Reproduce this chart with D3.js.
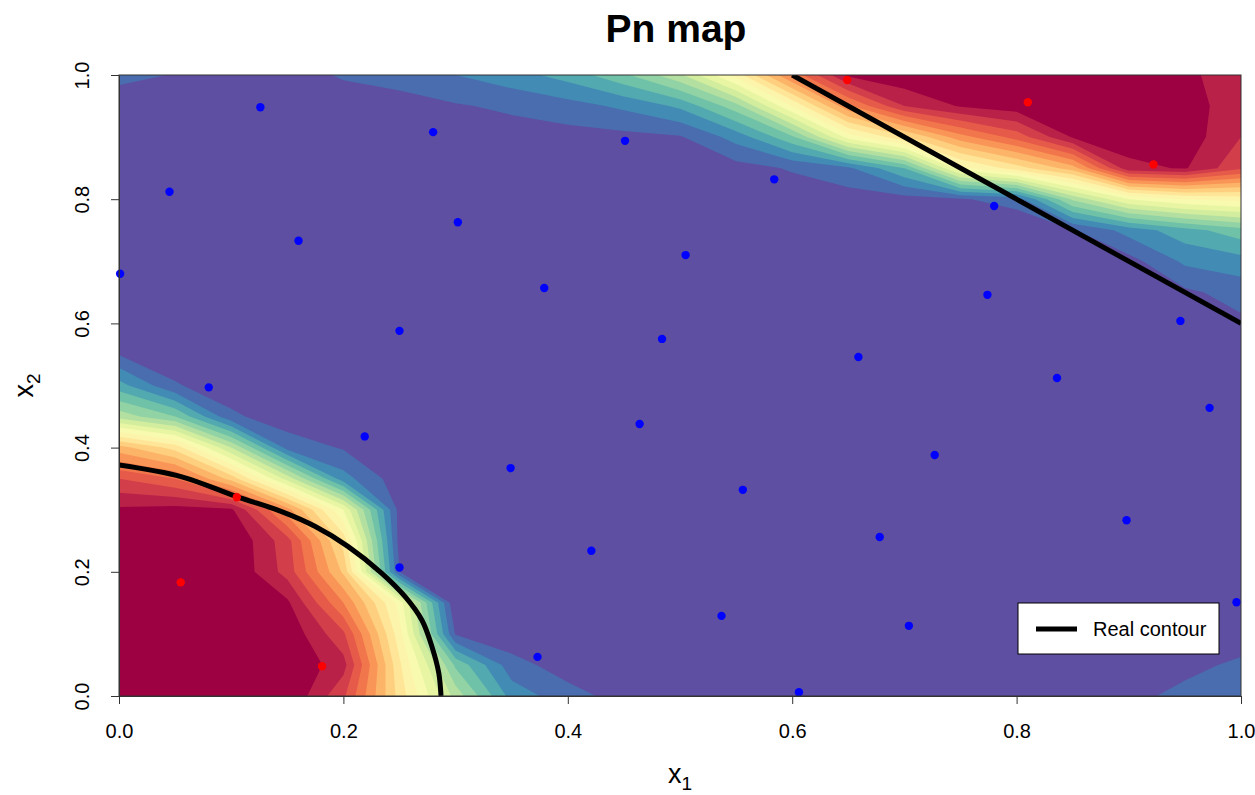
<!DOCTYPE html>
<html>
<head>
<meta charset="utf-8">
<script src="https://cdn.jsdelivr.net/npm/d3@7"></script>
<style>
  body { margin: 0; background: #fff; }
  text { font-family: "Liberation Sans", Arial, sans-serif; fill: #000; }
</style>
</head>
<body>
<script>
// Pn map: values in %, rows go from x2 = 1.0 (top) down to x2 = 0.0,
// columns go from x1 = 0 to x1 = 1 in steps of 0.05
const gridStep = 0.05;
const pnGrid = [
  [6, 4.8, 3, 3, 5.5, 7, 10, 13, 17, 24, 34, 52, 76, 96, 99, 100, 100, 100, 100, 97, 90],
  [3, 2, 2, 2, 2.5, 3, 4.5, 6, 8, 11, 16, 28, 50, 74, 90, 95.5, 98, 99, 99, 99, 90],
  [1.5, 1, 1, 1, 1, 1.5, 2, 2.5, 3, 3.5, 4.5, 12, 24, 47, 59, 73, 82, 95.5, 98, 98, 90],
  [1, 1, 0.5, 0.5, 0.5, 0.5, 1, 1, 1.5, 2, 2, 3, 5.5, 9, 20, 48, 57.5, 67.5, 93.5, 95.5, 86],
  [1, 0.5, 0, 0, 0, 0, 0, 0, 0.5, 0.5, 1, 1.5, 2, 2.5, 3, 4.5, 7, 31, 45, 50, 52],
  [1, 0.5, 0, 0, 0, 0, 0, 0, 0, 0, 0, 0, 0, 0.5, 0.5, 1, 1, 4.5, 12, 18, 23],
  [1.5, 1, 0.5, 0, 0, 0, 0, 0, 0, 0, 0, 0, 0, 0, 0, 0.5, 0.5, 1, 3, 11, 13],
  [2, 1, 0.5, 0, 0, 0, 0, 0, 0, 0, 0, 0, 0, 0, 0, 0, 0, 0.5, 1, 4, 7],
  [2, 1, 0.5, 0, 0, 0, 0, 0, 0, 0, 0, 0, 0, 0, 0, 0, 0, 0, 0, 1, 4],
  [4.8, 2, 1, 0.5, 0, 0, 0, 0, 0, 0, 0, 0, 0, 0, 0, 0, 0, 0, 0, 0.5, 1.5],
  [17, 5.5, 2, 1, 0.5, 0, 0, 0, 0, 0, 0, 0, 0, 0, 0, 0, 0, 0, 0, 0, 0],
  [33, 25, 6, 2, 1, 0.5, 0, 0, 0, 0, 0, 0, 0, 0, 0, 0, 0, 0, 0, 0, 0],
  [67, 58, 35, 8, 4.5, 1, 0.5, 0, 0, 0, 0, 0, 0, 0, 0, 0, 0, 0, 0, 0, 0],
  [85, 80, 63, 38, 12, 2, 0.5, 0, 0, 0, 0, 0, 0, 0, 0, 0, 0, 0, 0, 0, 0],
  [96, 97, 96, 72, 45, 3, 0.5, 0, 0, 0, 0, 0, 0, 0, 0, 0, 0, 0, 0, 0, 0],
  [100, 100, 100, 87, 58, 3, 0.5, 0, 0, 0, 0, 0, 0, 0, 0, 0, 0, 0, 0, 0, 0],
  [100, 100, 100, 88, 64, 5, 0.5, 0, 0, 0, 0, 0, 0, 0, 0, 0, 0, 0, 0, 0, 0],
  [100, 100, 100, 96, 75, 48, 0, 0, 0, 0, 0, 0, 0, 0, 0, 0, 0, 0, 0, 0, 0],
  [100, 100, 100, 99, 86, 52, 4.5, 1.5, 0.5, 0, 0, 0, 0, 0, 0, 0, 0, 0, 0, 2, 3],
  [100, 100, 100, 100, 92, 56, 24, 7, 2.5, 1, 0.5, 0, 0, 0, 0, 0, 0, 0, 2, 4, 5.7],
  [100, 100, 100, 100, 86, 58, 33, 13, 7, 3, 2, 1, 0.5, 0, 0, 0, 0, 2, 4, 6, 8]
];

// 20 colour bands, 5% each
const levels = [5, 10, 15, 20, 25, 30, 35, 40, 45, 50, 55, 60, 65, 70, 75, 80, 85, 90, 95];

// design points
const bluePts = [
  [0.126, 0.948], [0.045, 0.812], [0.280, 0.908], [0.451, 0.894], [0.584, 0.832],
  [0.160, 0.733], [0.302, 0.763], [0.505, 0.710], [0.001, 0.680], [0.379, 0.657],
  [0.250, 0.588], [0.484, 0.575], [0.080, 0.497], [0.659, 0.546], [0.774, 0.646],
  [0.780, 0.789], [0.946, 0.604], [0.836, 0.512], [0.972, 0.464], [0.219, 0.418],
  [0.464, 0.438], [0.349, 0.367], [0.727, 0.388], [0.556, 0.332], [0.421, 0.234],
  [0.678, 0.256], [0.898, 0.283], [0.250, 0.207], [0.537, 0.129], [0.704, 0.113],
  [0.373, 0.063], [0.606, 0.006], [0.996, 0.151]
];
const redPts = [
  [0.649, 0.992], [0.810, 0.956], [0.922, 0.856],
  [0.105, 0.320], [0.055, 0.183], [0.181, 0.048]
];

// real contour, two pieces
const realLow = [
  [0.000, 0.372], [0.056, 0.353], [0.105, 0.321], [0.145, 0.297], [0.175, 0.273],
  [0.204, 0.241], [0.234, 0.198], [0.255, 0.160], [0.270, 0.122], [0.279, 0.079],
  [0.285, 0.037], [0.287, 0.000]
];
const realHigh = [[0.6, 1.0], [1.0, 0.6]];

const xTicks = [0, 0.2, 0.4, 0.6, 0.8, 1.0];
const yTicks = [0, 0.2, 0.4, 0.6, 0.8, 1.0];

const W = 1255, H = 795;
const pLeft = 119, pRight = 1241, pTop = 75, pBottom = 696;

const x = d3.scaleLinear().domain([0, 1]).range([pLeft, pRight]);
const y = d3.scaleLinear().domain([0, 1]).range([pBottom, pTop]);

const bandColors = d3.quantize(d3.interpolateSpectral, levels.length + 1).reverse();

const svg = d3.select("body").append("svg")
  .attr("width", W).attr("height", H);

svg.append("clipPath").attr("id", "plotClip")
  .append("rect")
  .attr("x", pLeft).attr("y", pTop)
  .attr("width", pRight - pLeft).attr("height", pBottom - pTop);

const mapG = svg.append("g").attr("clip-path", "url(#plotClip)");

mapG.append("rect")
  .attr("x", pLeft).attr("y", pTop)
  .attr("width", pRight - pLeft).attr("height", pBottom - pTop)
  .attr("fill", bandColors[0]);

// filled contours from the grid
const nx = pnGrid[0].length, ny = pnGrid.length;
const bands = d3.contours().size([nx, ny]).thresholds(levels)(pnGrid.flat());
const toPlot = d3.geoTransform({
  point(gx, gy) {
    this.stream.point(x((gx - 0.5) * gridStep), y(1 - (gy - 0.5) * gridStep));
  }
});
const bandPath = d3.geoPath(toPlot);

mapG.selectAll("path.band")
  .data(bands)
  .join("path")
  .attr("class", "band")
  .attr("d", bandPath)
  .attr("fill", d => bandColors[Math.round(d.value / 5)]);

// real contour
mapG.append("path")
  .attr("d", d3.line().x(d => x(d[0])).y(d => y(d[1])).curve(d3.curveCatmullRom)(realLow))
  .attr("fill", "none").attr("stroke", "#000").attr("stroke-width", 5);
mapG.append("path")
  .attr("d", d3.line().x(d => x(d[0])).y(d => y(d[1]))(realHigh))
  .attr("fill", "none").attr("stroke", "#000").attr("stroke-width", 5);

// points
svg.append("g").selectAll("circle")
  .data(bluePts)
  .join("circle")
  .attr("cx", d => x(d[0])).attr("cy", d => y(d[1]))
  .attr("r", 4.2).attr("fill", "#0000ff");
svg.append("g").selectAll("circle")
  .data(redPts)
  .join("circle")
  .attr("cx", d => x(d[0])).attr("cy", d => y(d[1]))
  .attr("r", 4.2).attr("fill", "#ff0000");

// box
svg.append("rect")
  .attr("x", pLeft).attr("y", pTop)
  .attr("width", pRight - pLeft).attr("height", pBottom - pTop)
  .attr("fill", "none").attr("stroke", "#333").attr("stroke-width", 1);

// axes
const xAxis = svg.append("g")
  .attr("transform", `translate(0,${pBottom})`)
  .call(d3.axisBottom(x).tickValues(xTicks).tickFormat(d3.format(".1f"))
    .tickSize(8).tickSizeOuter(0).tickPadding(20));
const yAxis = svg.append("g")
  .attr("transform", `translate(${pLeft},0)`)
  .call(d3.axisLeft(y).tickValues(yTicks).tickFormat(d3.format(".1f"))
    .tickSize(8).tickSizeOuter(0));

[xAxis, yAxis].forEach(g => {
  g.select(".domain").attr("stroke", "#333");
  g.selectAll(".tick line").attr("stroke", "#333");
  g.selectAll(".tick text")
    .attr("font-size", 20)
    .attr("font-family", "Liberation Sans, Arial, sans-serif")
    .attr("fill", "#000");
});

yAxis.selectAll(".tick text")
  .attr("x", null)
  .attr("text-anchor", "middle")
  .attr("transform", "translate(-37,0) rotate(-90)")
  .attr("dy", "0.35em");

// title and axis titles
svg.append("text")
  .attr("x", 676).attr("y", 42)
  .attr("text-anchor", "middle")
  .attr("font-size", 39).attr("font-weight", "bold")
  .text("Pn map");

const xTitle = svg.append("text")
  .attr("x", 680).attr("y", 783)
  .attr("text-anchor", "middle")
  .attr("font-size", 27);
xTitle.append("tspan").text("x");
xTitle.append("tspan").attr("font-size", 19).attr("dy", 7).text("1");

const yTitle = svg.append("text")
  .attr("transform", `translate(33,${(pTop + pBottom) / 2}) rotate(-90)`)
  .attr("text-anchor", "middle")
  .attr("font-size", 27);
yTitle.append("tspan").text("x");
yTitle.append("tspan").attr("font-size", 19).attr("dy", 7).text("2");

// legend
const leg = svg.append("g");
leg.append("rect")
  .attr("x", 1018).attr("y", 603).attr("width", 201).attr("height", 51)
  .attr("fill", "#fff").attr("stroke", "#000").attr("stroke-width", 1);
leg.append("line")
  .attr("x1", 1036).attr("x2", 1077).attr("y1", 629).attr("y2", 629)
  .attr("stroke", "#000").attr("stroke-width", 5);
leg.append("text")
  .attr("x", 1093).attr("y", 636)
  .attr("font-size", 20)
  .text("Real contour");
</script>
</body>
</html>
